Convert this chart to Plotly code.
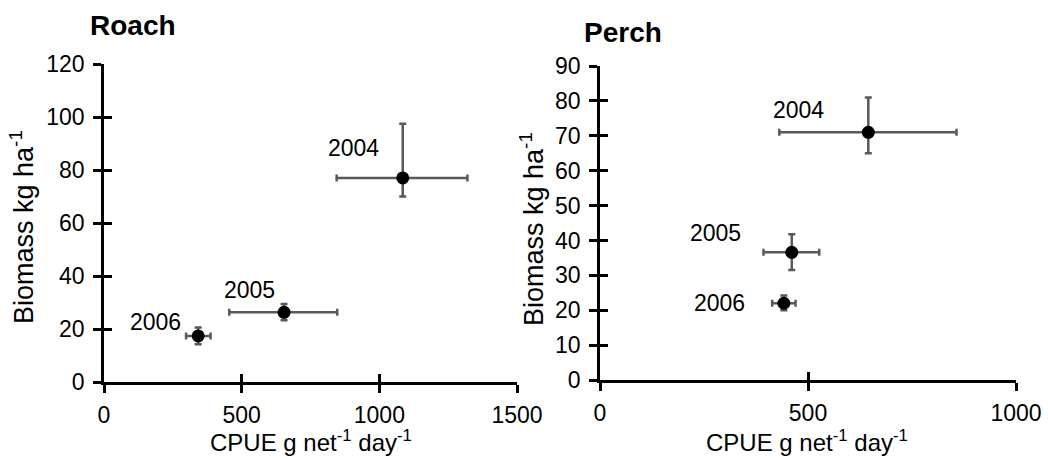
import plotly.graph_objects as go

# ---- data ----
years = ["2004", "2005", "2006"]

roach_cpue = [1085, 654, 342]
roach_cpue_lo = [845, 455, 298]
roach_cpue_hi = [1320, 847, 387]
roach_biomass = [77, 26.3, 17.4]
roach_biomass_lo = [70, 23.3, 14.2]
roach_biomass_hi = [97.5, 29.4, 20.6]

perch_cpue = [645, 461, 442]
perch_cpue_lo = [431, 393, 414]
perch_cpue_hi = [857, 527, 470]
perch_biomass = [71, 36.6, 22.0]
perch_biomass_lo = [65, 31.5, 20.0]
perch_biomass_hi = [81, 41.8, 24.2]

roach_x_ticks = [0, 500, 1000, 1500]
roach_y_ticks = [0, 20, 40, 60, 80, 100, 120]
perch_x_ticks = [0, 500, 1000]
perch_y_ticks = [0, 10, 20, 30, 40, 50, 60, 70, 80, 90]

# label pixel offsets (style)
roach_label_shift = [(-49, 30), (-35, 22), (-43, 14)]
perch_label_shift = [(-70, 22), (-76, 19), (-64, 0)]

FONT = "Liberation Sans, Arial, sans-serif"
ERR_COLOR = "#595959"
W, H = 1048, 459


def px_x(p):
    return p / W


def px_y(p):
    return (H - p) / H


def diff(a, b):
    return [x - y for x, y in zip(a, b)]


fig = go.Figure()

def add_series(x, xlo, xhi, y, ylo, yhi, xa, ya):
    fig.add_trace(go.Scatter(
        x=x, y=y, mode="markers", xaxis=xa, yaxis=ya,
        marker=dict(size=13, color="black"),
        error_x=dict(type="data", symmetric=False,
                     array=diff(xhi, x), arrayminus=diff(x, xlo),
                     color=ERR_COLOR, thickness=2.5, width=3.5),
        error_y=dict(type="data", symmetric=False,
                     array=diff(yhi, y), arrayminus=diff(y, ylo),
                     color=ERR_COLOR, thickness=2.5, width=3.5),
        showlegend=False, hoverinfo="skip",
    ))

add_series(roach_cpue, roach_cpue_lo, roach_cpue_hi,
           roach_biomass, roach_biomass_lo, roach_biomass_hi, "x", "y")
add_series(perch_cpue, perch_cpue_lo, perch_cpue_hi,
           perch_biomass, perch_biomass_lo, perch_biomass_hi, "x2", "y2")

tickfont = dict(family=FONT, size=23, color="black")

left_xdom = [px_x(104), px_x(517)]
left_ydom = [px_y(382), px_y(64)]
right_xdom = [px_x(600), px_x(1016)]
right_ydom = [px_y(380), px_y(66)]

common = dict(showgrid=False, zeroline=False, showline=True, linecolor="black",
              linewidth=2.5, ticks="outside", ticklen=8, tickwidth=2.5,
              tickcolor="black", tickfont=tickfont, automargin=False)
overlay = dict(showgrid=False, zeroline=False, showline=False, ticks="inside",
               ticklen=8, tickwidth=2.5, tickcolor="black", showticklabels=False,
               automargin=False)

fig.update_layout(
    width=W, height=H,
    margin=dict(l=0, r=0, t=0, b=0, autoexpand=False),
    paper_bgcolor="white", plot_bgcolor="white",
    font=dict(family=FONT, color="black"),
    xaxis=dict(domain=left_xdom, range=[0, 1500], tickvals=roach_x_ticks,
               anchor="y", ticklabelstandoff=3, **common),
    yaxis=dict(domain=left_ydom, range=[0, 120], tickvals=roach_y_ticks,
               anchor="x", ticklabelstandoff=4, **common),
    xaxis2=dict(domain=right_xdom, range=[0, 1000], tickvals=perch_x_ticks,
                anchor="y2", ticklabelstandoff=3, **common),
    yaxis2=dict(domain=right_ydom, range=[0, 90], tickvals=perch_y_ticks,
                anchor="x2", ticklabelstandoff=4, **common),
    xaxis3=dict(domain=left_xdom, range=[0, 1500], tickvals=roach_x_ticks,
                anchor="y", overlaying="x", **overlay),
    yaxis3=dict(domain=left_ydom, range=[0, 120], tickvals=roach_y_ticks,
                anchor="x", overlaying="y", **overlay),
    xaxis4=dict(domain=right_xdom, range=[0, 1000], tickvals=perch_x_ticks,
                anchor="y2", overlaying="x2", **overlay),
    yaxis4=dict(domain=right_ydom, range=[0, 90], tickvals=perch_y_ticks,
                anchor="x2", overlaying="y2", **overlay),
)

# invisible traces so overlay axes render
fig.add_trace(go.Scatter(x=[None], y=[None], xaxis="x3", yaxis="y3", showlegend=False))
fig.add_trace(go.Scatter(x=[None], y=[None], xaxis="x4", yaxis="y4", showlegend=False))

annots = []
labfont = dict(family=FONT, size=23, color="black")
for yr, x, y, (dx, dy) in zip(years, roach_cpue, roach_biomass, roach_label_shift):
    annots.append(dict(x=x, y=y, xref="x", yref="y", text=yr, showarrow=False,
                       xshift=dx, yshift=dy, font=labfont))
for yr, x, y, (dx, dy) in zip(years, perch_cpue, perch_biomass, perch_label_shift):
    annots.append(dict(x=x, y=y, xref="x2", yref="y2", text=yr, showarrow=False,
                       xshift=dx, yshift=dy, font=labfont))

titlefont = dict(family=FONT, size=28, color="black")
annots.append(dict(x=px_x(88), y=px_y(26), xref="paper", yref="paper",
                   text="<b>Roach</b>", showarrow=False, xanchor="left",
                   yanchor="middle", font=titlefont))
annots.append(dict(x=px_x(582), y=px_y(32), xref="paper", yref="paper",
                   text="<b>Perch</b>", showarrow=False, xanchor="left",
                   yanchor="middle", font=titlefont))

yfont = dict(family=FONT, size=27, color="black")
xfont = dict(family=FONT, size=24, color="black")
ytitle = "Biomass kg ha<sup>-1</sup>"
xtitle = "CPUE g net<sup>-1</sup> day<sup>-1</sup>"
annots.append(dict(x=px_x(22), y=px_y(227), xref="paper", yref="paper",
                   text=ytitle, textangle=-90, showarrow=False,
                   xanchor="center", yanchor="middle", font=yfont))
annots.append(dict(x=px_x(532), y=px_y(229), xref="paper", yref="paper",
                   text=ytitle, textangle=-90, showarrow=False,
                   xanchor="center", yanchor="middle", font=yfont))
annots.append(dict(x=px_x(311), y=px_y(458), xref="paper", yref="paper",
                   text=xtitle, showarrow=False, xanchor="center",
                   yanchor="bottom", font=xfont))
annots.append(dict(x=px_x(807), y=px_y(458), xref="paper", yref="paper",
                   text=xtitle, showarrow=False, xanchor="center",
                   yanchor="bottom", font=xfont))

fig.update_layout(annotations=annots)

fig.write_html("out.html")
